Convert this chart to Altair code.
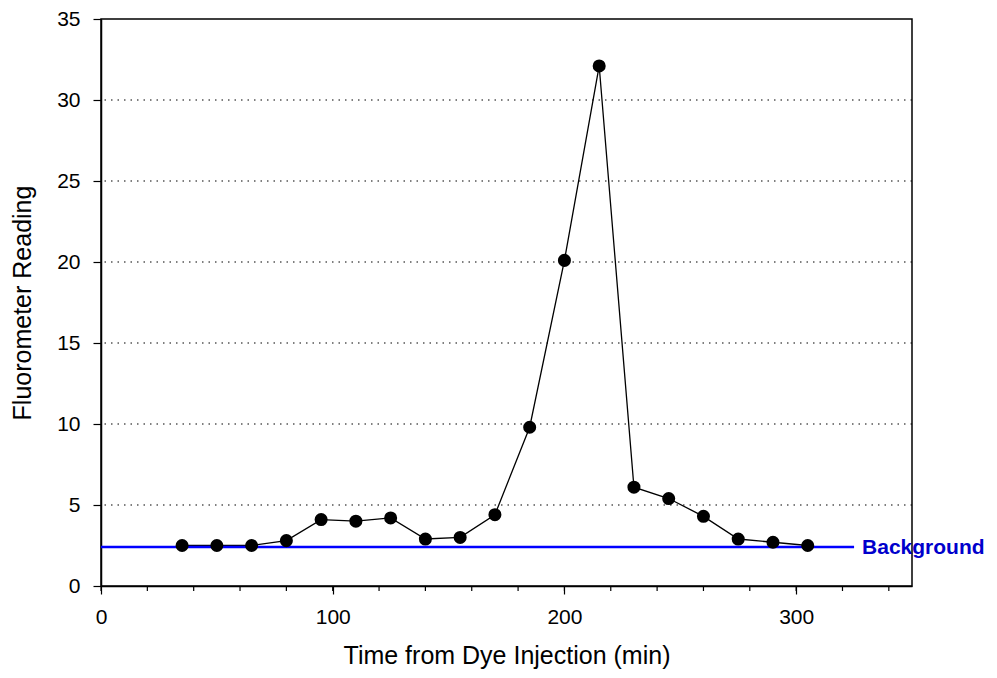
import altair as alt
import pandas as pd

time_min = [35, 50, 65, 80, 95, 110, 125, 140, 155, 170, 185, 200, 215, 230, 245, 260, 275, 290, 305]
reading = [2.5, 2.5, 2.5, 2.8, 4.1, 4.0, 4.2, 2.9, 3.0, 4.4, 9.8, 20.1, 32.1, 6.1, 5.4, 4.3, 2.9, 2.7, 2.5]
background_level = 2.4
background_span = [0, 325]
background_label = "Background"
major_ticks = [0, 100, 200, 300]
minor_ticks = list(range(0, 351, 20))
y_ticks = [0, 5, 10, 15, 20, 25, 30, 35]
grid_levels = [5, 10, 15, 20, 25, 30]

df = pd.DataFrame({"t": time_min, "r": reading})
bg = pd.DataFrame({"t": background_span, "r": [background_level] * 2})
lab = pd.DataFrame({"t": [background_span[1]], "r": [background_level], "txt": [background_label]})
grid = pd.DataFrame({"r": grid_levels})
minor = pd.DataFrame({"t": minor_ticks})

FONT = "Liberation Sans"
XT = "Time from Dye Injection (min)"
YT = "Fluorometer Reading"
xs = alt.Scale(domain=[0, 350], nice=False, zero=False)
ys = alt.Scale(domain=[0, 35], nice=False)
xaxis = alt.Axis(values=major_ticks, grid=False, tickSize=8, labelPadding=12, titlePadding=16,
                 format="d", labelFlush=False)
yaxis = alt.Axis(values=y_ticks, grid=False, tickSize=8, labelPadding=13, titlePadding=21)


def X(f="t"):
    return alt.X(f"{f}:Q", scale=xs, title=XT, axis=xaxis)


def Y(f="r"):
    return alt.Y(f"{f}:Q", scale=ys, title=YT, axis=yaxis)


line = alt.Chart(df).mark_line(color="black", strokeWidth=1.3).encode(x=X(), y=Y())

gridl = alt.Chart(grid).mark_rule(color="black", strokeDash=[1.5, 5], strokeWidth=1.2).encode(y=Y())

minor_t = alt.Chart(minor).mark_rule(color="black", strokeWidth=1.2).encode(
    x=X(),
    y=alt.value(567),
    y2=alt.value(572),
)

bgline = alt.Chart(bg).mark_line(color="#0000ff", strokeWidth=2.5).encode(x=X(), y=Y())

bgtext = alt.Chart(lab).mark_text(
    align="left", baseline="middle", dx=8, dy=1, font=FONT, fontSize=21, fontWeight="bold", color="#0000cc"
).encode(x=X(), y=Y(), text="txt:N")

pts = alt.Chart(df).mark_circle(color="black", size=170, opacity=1).encode(x=X(), y=Y())

chart = alt.layer(line, gridl, minor_t, bgline, pts, bgtext).properties(
    width=811,
    height=567,
    background="white",
    autosize=alt.AutoSizeParams(type="none"),
    padding={"left": 93, "top": 11, "right": 77, "bottom": 84},
).configure_view(
    stroke="black", strokeWidth=1.5
).configure_axis(
    domainColor="black", domainWidth=1.5, tickColor="black", tickWidth=1.2,
    labelFont=FONT, labelFontSize=21, labelColor="black",
    titleFont=FONT, titleFontSize=25, titleFontWeight="normal", titleColor="black",
)

chart.save("out.html", embed_options={"renderer": "svg", "actions": False})
